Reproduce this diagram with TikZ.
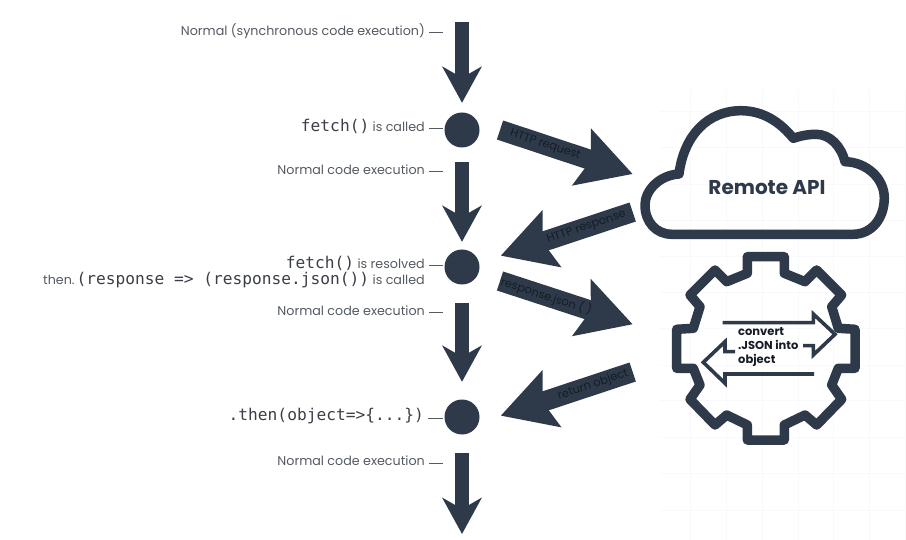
\documentclass[tikz,border=0pt]{standalone}
\usepackage{fontspec}
\setmainfont{Poppins}
\newfontfamily\codefont{DejaVu Sans Mono}
\usetikzlibrary{arrows.meta}
\definecolor{slate}{RGB}{46, 58, 74}
\definecolor{slatetext}{RGB}{22, 28, 38}
\definecolor{labelgray}{RGB}{84, 90, 98}
\definecolor{codegray}{RGB}{58, 62, 70}
\definecolor{gridline}{RGB}{248, 249, 250}
\newcommand{\code}[1]{{\codefont\fontsize{16.2}{16}\selectfont\textcolor{codegray}{#1}}}
\tikzset{
  flowarrow/.style={draw=slate, line width=14pt, -{Stealth[length=36pt, width=39pt, inset=11pt, fill=slate]}},
  callarrow/.style={draw=slate, line width=20pt, -{Stealth[length=53pt, width=58pt, inset=9pt, fill=slate]}},
  callnote/.style={sloped, inner sep=0pt, text=slatetext, font=\fontsize{11.4}{11}\selectfont},
  eventdot/.style={circle, fill=slate, minimum size=35pt, inner sep=0pt},
  steplabel/.style={anchor=east, inner sep=0pt, text=labelgray, text height=10pt, text depth=5pt, font=\fontsize{12.7}{14}\selectfont},
  tickline/.style={draw=labelgray, line width=1pt, shorten <=4pt, shorten >=19.5pt},
  outline/.style={draw=slate, line width=9.5pt, line join=round},
  innerarrow/.style={draw=slate, line width=3.6pt, line join=miter}
}
\begin{document}
\begin{tikzpicture}[x=1pt, y=-1pt]
  \useasboundingbox (0, 0) rectangle (906, 540);

  % Faint grid
  \foreach \gx in {690, 726, 762, 798, 833, 869, 905}
    \draw[gridline, line width=0.8pt] (\gx, 90) -- (\gx, 540);
  \foreach \gy in {111, 147, 184, 220, 256, 292, 328, 365, 400, 437, 473, 510}
    \draw[gridline, line width=0.8pt] (660, \gy) -- (906, \gy);

  % Event dots
  \node[eventdot] (calldot) at (462, 130) {};
  \node[eventdot] (resolvedot) at (462, 267) {};
  \node[eventdot] (thendot) at (462, 417) {};
  \coordinate (flowstart) at (462, 22);
  \coordinate (flowend) at (462, 534);

  % Main flow
  \draw[flowarrow, shorten >=9.5pt] (flowstart) -- (calldot);
  \draw[flowarrow, shorten <=14.5pt, shorten >=7.5pt] (calldot) -- (resolvedot);
  \draw[flowarrow, shorten <=18.5pt, shorten >=17.5pt] (resolvedot) -- (thendot);
  \draw[flowarrow, shorten <=18.5pt] (thendot) -- (flowend);

  % Labels
  \node[steplabel] (normalone) at (425, 33) {Normal (synchronous code execution)};
  \node[steplabel] (calledlabel) at (425, 129) {\code{fetch()} is called};
  \node[steplabel] (normaltwo) at (425, 172) {Normal code execution};
  \node[steplabel] (resolvedlabel) at (425, 266) {\code{fetch()} is resolved};
  \node[steplabel] (thenlabel) at (425, 282) {then.\,\code{(response => (response.json())} is called};
  \node[steplabel] (normalthree) at (425, 313) {Normal code execution};
  \node[steplabel] (objectlabel) at (424, 418) {\code{.then(object=>\{...\})}};
  \node[steplabel] (normalfour) at (425, 463) {Normal code execution};
  \foreach \lab in {normalone, calledlabel, normaltwo, resolvedlabel, normalthree, objectlabel, normalfour}
    \draw[tickline] (\lab.east) -- (\lab.east -| flowstart);

  % Calls to the right
  \coordinate (reqstart) at (500, 130);
  \coordinate (reqend) at (632.7, 174);
  \coordinate (respstart) at (632.7, 212);
  \coordinate (respend) at (500.7, 255.7);
  \coordinate (jsonstart) at (500, 281);
  \coordinate (jsonend) at (632.7, 324.3);
  \coordinate (retstart) at (632.7, 372);
  \coordinate (retend) at (500.7, 415.7);
  \draw[callarrow] (reqstart) -- node[callnote, pos=0.34] (reqnote) {HTTP request} (reqend);
  \draw[callarrow] (respstart) -- node[callnote, pos=0.35] (respnote) {HTTP response} (respend);
  \draw[callarrow] (jsonstart) -- node[callnote, pos=0.35] (jsonnote) {response.json ( )} (jsonend);
  \draw[callarrow] (retstart) -- node[callnote, pos=0.3] (retnote) {return object} (retend);

  % Cloud
  \draw[outline] (672, 234.3) -- (853, 234.3)
    .. controls (872, 234.3) and (884.3, 218) .. (884.3, 198)
    .. controls (884.3, 178) and (866, 162) .. (845, 161.7)
    .. controls (841, 146) and (830, 134.3) .. (816, 134.3)
    .. controls (808, 134.3) and (800, 136) .. (793.3, 138.3)
    .. controls (780, 122) and (763, 110.7) .. (741, 110.7)
    .. controls (708, 110.7) and (684, 135) .. (679, 174)
    .. controls (660, 175) and (645, 190) .. (645, 205)
    .. controls (645, 222) and (656, 234.3) .. (672, 234.3) -- cycle;
  \node[text=slate, inner sep=0pt, font=\fontsize{20}{20}\selectfont\bfseries] (apilabel) at (767, 188) {Remote API};

  % Gear
  \draw[outline] (747.3, 256.7) -- (784.3, 256.7) -- (784.3, 273.3) -- (805, 281.7)
    -- (816.7, 270) -- (841.7, 295) -- (831.7, 306.7) -- (838.3, 328.3)
    -- (855, 329.3) -- (855, 368.3) -- (838.3, 368.3) -- (831.7, 385)
    -- (841.7, 399.3) -- (816.7, 425) -- (805, 415) -- (784.3, 425)
    -- (784.3, 440) -- (747.3, 440) -- (747.3, 425) -- (726.7, 415)
    -- (715, 425) -- (690, 399.3) -- (700, 385) -- (693.3, 368.3)
    -- (676.7, 368.3) -- (676.7, 329.3) -- (693.3, 328.3) -- (700, 306.7)
    -- (690, 295) -- (715, 270) -- (726.7, 281.7) -- (747.3, 273.3) -- cycle;

  % Open arrows inside the gear
  \draw[innerarrow] (722.7, 322.7) -- (813.3, 322.7) -- (813.3, 314) -- (835, 334.3)
    -- (813.3, 355) -- (813.3, 345.7) -- (803, 345.7);
  \draw[innerarrow] (735, 351.7) -- (725, 351.7) -- (725, 341.7) -- (703.3, 362.3)
    -- (725, 383.3) -- (725, 374) -- (814, 374);
  \node[anchor=west, align=left, inner sep=0pt, text=slatetext, font=\fontsize{11.5}{13.7}\selectfont\bfseries] (gearlabel) at (738, 347) {convert\\.JSON into\\object};
\end{tikzpicture}
\end{document}
